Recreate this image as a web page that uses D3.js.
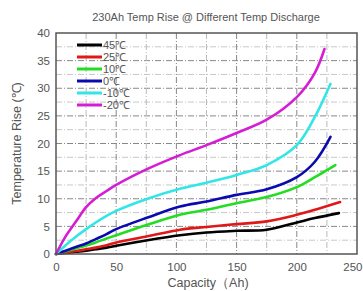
<!DOCTYPE html>
<html>
<head>
<meta charset="utf-8">
<script src="https://cdn.jsdelivr.net/npm/d3@7"></script>
<style>
body{margin:0;background:#fff;}
text{font-family:"Liberation Sans",Arial,sans-serif;fill:#555;}
</style>
</head>
<body>
<div id="chart"></div>
<script>
// capacity points (Ah)
var caps = [0, 8, 17, 25, 33, 42, 50, 76, 103, 125, 150, 175, 200, 215];
var seriesNames = ["45℃", "25℃", "10℃", "0℃", "-10℃", "-20℃"];
var seriesColors = ["#000000", "#e01818", "#22dd22", "#0a0ab0", "#33e6e6", "#d41ed4"];
// last point of each curve [capacity, temp]
var endPoints = [[235, 7.4], [236, 9.4], [232, 16.1], [228, 21.2], [228, 30.8], [223, 37.1]];
var t45 = [0, 0.2, 0.4, 0.6, 0.85, 1.15, 1.5, 2.5, 3.4, 3.9, 4.2, 4.4, 5.7, 6.5];
var t25 = [0, 0.25, 0.55, 0.85, 1.15, 1.6, 2.1, 3.2, 4.4, 4.9, 5.4, 5.9, 7.1, 8.0];
var t10 = [0, 0.5, 1.05, 1.55, 2.1, 2.8, 3.4, 5.3, 7.1, 8.0, 9.2, 10.3, 12.1, 13.9];
var t0 = [0, 0.6, 1.3, 1.9, 2.7, 3.6, 4.5, 6.6, 8.6, 9.5, 10.7, 11.7, 13.9, 16.7];
var tm10 = [0, 1.6, 3.2, 4.5, 5.7, 6.9, 7.8, 10.0, 11.8, 12.9, 14.3, 16.1, 19.7, 24.8];
var tm20 = [0, 3.2, 6.0, 8.5, 10.1, 11.4, 12.5, 15.4, 17.9, 19.7, 21.9, 24.3, 28.4, 32.8];
var xTicks = [0, 50, 100, 150, 200, 250];
var yTicks = [0, 5, 10, 15, 20, 25, 30, 35, 40];

var allTemps = [t45, t25, t10, t0, tm10, tm20];

var W = 363, H = 291;
var margin = {top:33, right:6, bottom:37, left:56};
var w = W - margin.left - margin.right;
var h = H - margin.top - margin.bottom;

var svg = d3.select("#chart").append("svg").attr("width", W).attr("height", H);

var x = d3.scaleLinear().domain([0, 250]).range([0, w]);
var y = d3.scaleLinear().domain([0, 40]).range([h, 0]);

var g = svg.append("g").attr("transform", "translate(" + margin.left + "," + margin.top + ")");

//grid lines, dash dot
d3.range(2.5, 40, 2.5).forEach(function(v){
	g.append("line").attr("x1", 0).attr("x2", w).attr("y1", y(v)).attr("y2", y(v))
		.attr("stroke", v % 5 == 0 ? "#888" : "#c8c8c8").attr("stroke-width", 1)
		.attr("stroke-dasharray", "6,2,1,2");
});
d3.range(25, 250, 25).forEach(function(v){
	g.append("line").attr("y1", 0).attr("y2", h).attr("x1", x(v)).attr("x2", x(v))
		.attr("stroke", v % 50 == 0 ? "#888" : "#bbb").attr("stroke-width", 1)
		.attr("stroke-dasharray", "6,2,1,2");
});

//axes
var xAxis = g.append("g").attr("transform", "translate(0," + h + ")")
	.call(d3.axisBottom(x).tickValues(xTicks).tickSize(0).tickPadding(9));
var yAxis = g.append("g")
	.call(d3.axisLeft(y).tickValues(yTicks).tickSize(0).tickPadding(6));
[xAxis, yAxis].forEach(function(a){
	a.select(".domain").remove();
	a.selectAll("text").style("font-size", "11.5px").attr("fill", "#666");
});
// last x label sits at the window edge, keep it inside
xAxis.selectAll(".tick text").filter(function(d){ return d == 250; })
	.attr("text-anchor", "end").attr("dx", "5px");

//curves
var line = d3.line().x(function(d){ return x(d[0]); }).y(function(d){ return y(d[1]); })
	.curve(d3.curveCatmullRom.alpha(0.5));
for (var k = 0; k < allTemps.length; k++) {
	var pts = caps.map(function(c, i){ return [c, allTemps[k][i]]; });
	pts.push(endPoints[k]);
	g.append("path").datum(pts).attr("d", line)
		.attr("fill", "none").attr("stroke", seriesColors[k]).attr("stroke-width", 2.6)
		.attr("stroke-linecap", "round");
}

//frame
g.append("rect").attr("width", w).attr("height", h).attr("fill", "none")
	.attr("stroke", "#555").attr("stroke-width", 1.5);

//legend
var legend = g.append("g").attr("transform", "translate(21,12)");
seriesNames.forEach(function(name, i){
	legend.append("line").attr("x1", 0).attr("x2", 25).attr("y1", i * 12).attr("y2", i * 12)
		.attr("stroke", seriesColors[i]).attr("stroke-width", 3);
	legend.append("text").attr("x", 26).attr("y", i * 12 + 4).text(name)
		.style("font-size", "11px");
});

//titles
svg.append("text").attr("x", 206).attr("y", 21).attr("text-anchor", "middle")
	.style("font-size", "11px").text("230Ah Temp Rise @ Different Temp Discharge");
svg.append("text").attr("x", 208).attr("y", 287).attr("text-anchor", "middle")
	.style("font-size", "12.5px").text("Capacity（Ah)");
svg.append("text").attr("transform", "translate(21," + (margin.top + h / 2) + ") rotate(-90)")
	.attr("text-anchor", "middle").style("font-size", "12.5px").text("Temperature Rise (℃)");
</script>
</body>
</html>
